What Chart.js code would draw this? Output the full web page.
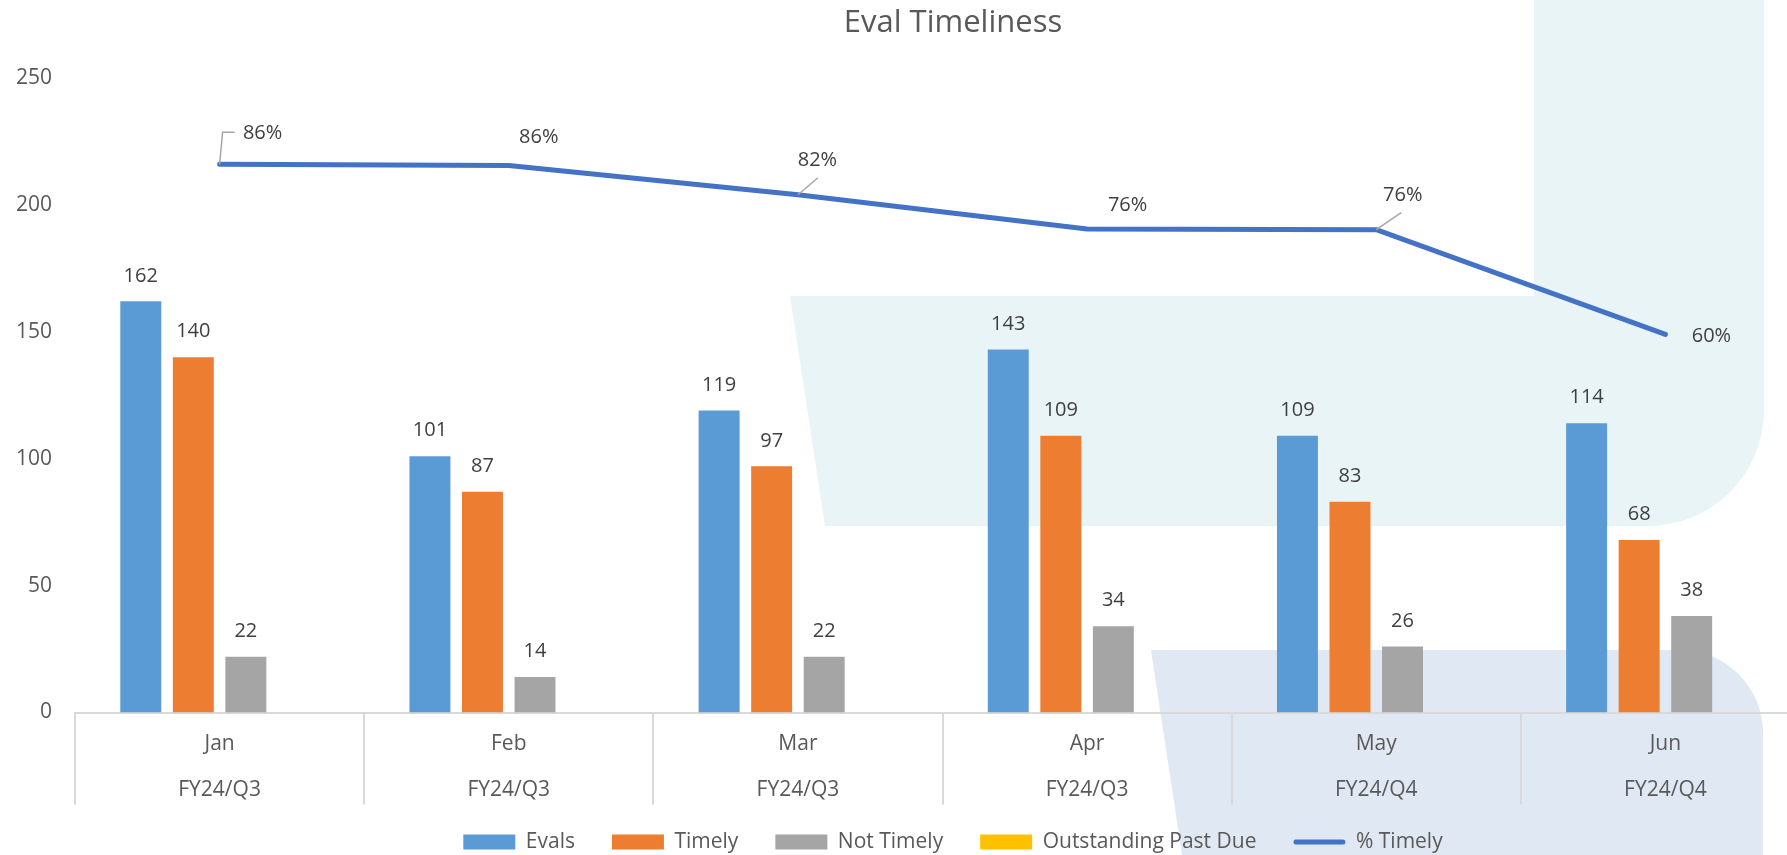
<!DOCTYPE html>
<html>
<head>
<meta charset="utf-8">
<title>Eval Timeliness</title>
<script src="https://cdn.jsdelivr.net/npm/chart.js@4.4.1/dist/chart.umd.min.js"></script>
<style>
  html, body { margin: 0; padding: 0; background: #fff; overflow: hidden; }
  #wrap { position: relative; width: 1906px; height: 855px; }
</style>
</head>
<body>
<div id="wrap"><canvas id="chart"></canvas></div>
<script>
const months = ['Jan', 'Feb', 'Mar', 'Apr', 'May', 'Jun'];
const quarters = ['FY24/Q3', 'FY24/Q3', 'FY24/Q3', 'FY24/Q3', 'FY24/Q4', 'FY24/Q4'];
const evals = [162, 101, 119, 143, 109, 114];
const timely = [140, 87, 97, 109, 83, 68];
const notTimely = [22, 14, 22, 34, 26, 38];
const pastDue = [null, null, null, null, null, null];
const pctTimely = [86.4, 86.2, 81.6, 76.2, 76.1, 59.6];
const yTicks = [0, 50, 100, 150, 200, 250];

// where the % labels sit relative to their point, plus the little leader lines
const pctLabelOffset = [[43, -31], [30, -28], [19.5, -34], [40.5, -24], [26.5, -34], [46, 2]];
const pctLeaders = [[[3, -32], [15, -32]], null, [[20, -17]], null, [[25, -17]], null];

const FONT = 'Open Sans';

// decorative shapes behind the chart
const backdrop = {
  id: 'backdrop',
  beforeDraw(chart) {
    const ctx = chart.ctx;
    ctx.save();
    ctx.fillStyle = '#FFFFFF';
    ctx.fillRect(0, 0, chart.width, chart.height);

    ctx.fillStyle = '#E8F4F6';
    ctx.beginPath();
    ctx.moveTo(1534, 0);
    ctx.lineTo(1764, 0);
    ctx.lineTo(1764, 410);
    ctx.arcTo(1764, 526, 1648, 526, 116);
    ctx.lineTo(825, 526);
    ctx.lineTo(790, 296);
    ctx.lineTo(1534, 296);
    ctx.closePath();
    ctx.fill();

    ctx.fillStyle = '#E0E8F3';
    ctx.beginPath();
    ctx.moveTo(1151, 650);
    ctx.lineTo(1680, 650);
    ctx.arcTo(1763, 650, 1763, 733, 83);
    ctx.lineTo(1763, 855);
    ctx.lineTo(1182, 855);
    ctx.closePath();
    ctx.fill();
    ctx.restore();
  }
};

// the x axis needs room for its second label row, so the legend is nudged up over it
const legendShift = {
  id: 'legendShift',
  afterLayout(chart) {
    chart.legend.top -= 18;
  }
};

const valueLabels = {
  id: 'valueLabels',
  afterDatasetsDraw(chart) {
    const ctx = chart.ctx;
    ctx.save();
    ctx.font = '20px "' + FONT + '"';
    ctx.fillStyle = '#404040';
    ctx.textAlign = 'center';
    ctx.textBaseline = 'middle';

    chart.data.datasets.forEach((ds, i) => {
      if (ds.type === 'line') return;
      chart.getDatasetMeta(i).data.forEach((bar, j) => {
        const v = ds.data[j];
        if (v == null) return;
        ctx.fillText(String(v), bar.x, bar.y - 25.5);
      });
    });

    const li = chart.data.datasets.findIndex(d => d.type === 'line');
    chart.getDatasetMeta(li).data.forEach((pt, j) => {
      const leader = pctLeaders[j];
      if (leader) {
        ctx.strokeStyle = '#A6A6A6';
        ctx.lineWidth = 1.5;
        ctx.beginPath();
        ctx.moveTo(pt.x, pt.y);
        leader.forEach(([dx, dy]) => ctx.lineTo(pt.x + dx, pt.y + dy));
        ctx.stroke();
      }
      const [dx, dy] = pctLabelOffset[j];
      ctx.fillText(Math.round(pctTimely[j]) + '%', pt.x + dx, pt.y + dy);
    });
    ctx.restore();
  }
};

// draws the line swatch for the % Timely legend entry
const legendLine = {
  id: 'legendLine',
  afterDraw(chart) {
    const legend = chart.legend;
    const ctx = chart.ctx;
    legend.legendItems.forEach((item, i) => {
      if (!item.isLine) return;
      const hb = legend.legendHitBoxes[i];
      const y = hb.top + hb.height / 2;
      ctx.save();
      ctx.strokeStyle = '#4472C4';
      ctx.lineWidth = 5;
      ctx.lineCap = 'round';
      ctx.beginPath();
      ctx.moveTo(hb.left + 2.5, y);
      ctx.lineTo(hb.left + 49.5, y);
      ctx.stroke();
      ctx.restore();
    });
  }
};

const barOpts = { type: 'bar', yAxisID: 'y', order: 1, categoryPercentage: 0.7268, barPercentage: 0.7795, borderWidth: 0 };

new Chart(document.getElementById('chart'), {
  type: 'bar',
  data: {
    labels: months.map((m, i) => [m, quarters[i]]),
    datasets: [
      { ...barOpts, label: 'Evals', data: evals, backgroundColor: '#5B9BD5' },
      { ...barOpts, label: 'Timely', data: timely, backgroundColor: '#ED7D31' },
      { ...barOpts, label: 'Not Timely', data: notTimely, backgroundColor: '#A5A5A5' },
      { ...barOpts, label: 'Outstanding Past Due', data: pastDue, backgroundColor: '#FFC000' },
      {
        type: 'line', label: '% Timely', data: pctTimely, yAxisID: 'y1', order: 0,
        borderColor: '#4472C4', backgroundColor: '#4472C4', borderWidth: 5,
        pointRadius: 0, tension: 0, borderCapStyle: 'round', borderJoinStyle: 'round'
      }
    ]
  },
  options: {
    responsive: true,
    maintainAspectRatio: false,
    animation: false,
    events: [],
    layout: { padding: 0 },
    plugins: {
      tooltip: { enabled: false },
      title: {
        display: true,
        text: 'Eval Timeliness',
        color: '#595959',
        font: { family: FONT, size: 31, weight: 'normal', lineHeight: 1.2 },
        padding: { top: 5, bottom: 35.8 }
      },
      legend: {
        position: 'bottom',
        maxHeight: 42.5,
        labels: {
          boxWidth: 52,
          boxHeight: 15,
          padding: 37,
          color: '#595959',
          font: { family: FONT, size: 21 },
          generateLabels(chart) {
            return chart.data.datasets.map((ds, i) => ({
              text: ds.label,
              fillStyle: ds.type === 'line' ? 'rgba(0,0,0,0)' : ds.backgroundColor,
              strokeStyle: 'rgba(0,0,0,0)',
              lineWidth: 0,
              hidden: false,
              fontColor: '#595959',
              datasetIndex: i,
              isLine: ds.type === 'line'
            }));
          }
        }
      }
    },
    scales: {
      x: {
        offset: true,
        grid: { display: true, offset: true, drawOnChartArea: false, drawTicks: true, tickLength: 92, color: '#D9D9D9', lineWidth: 2 },
        border: { display: true, color: '#D9D9D9', width: 2 },
        ticks: {
          color: '#595959',
          font: { family: FONT, size: 21, lineHeight: 2.2 },
          padding: -84,
          maxRotation: 0,
          autoSkip: false
        },
        afterFit: s => { s.height = 100; }
      },
      y: {
        min: 0,
        max: 250,
        grid: { display: false, drawTicks: false },
        border: { display: false },
        ticks: { color: '#595959', font: { family: FONT, size: 21 }, padding: 23 },
        afterBuildTicks: s => { s.ticks = yTicks.map(v => ({ value: v })); },
        afterFit: s => { s.width = 75; }
      },
      y1: {
        position: 'right',
        min: 0,
        max: 100,
        grid: { display: false, drawTicks: false },
        border: { display: false },
        ticks: { display: false },
        afterFit: s => { s.width = 96; }
      }
    }
  },
  plugins: [backdrop, legendShift, valueLabels, legendLine]
});
</script>
</body>
</html>
